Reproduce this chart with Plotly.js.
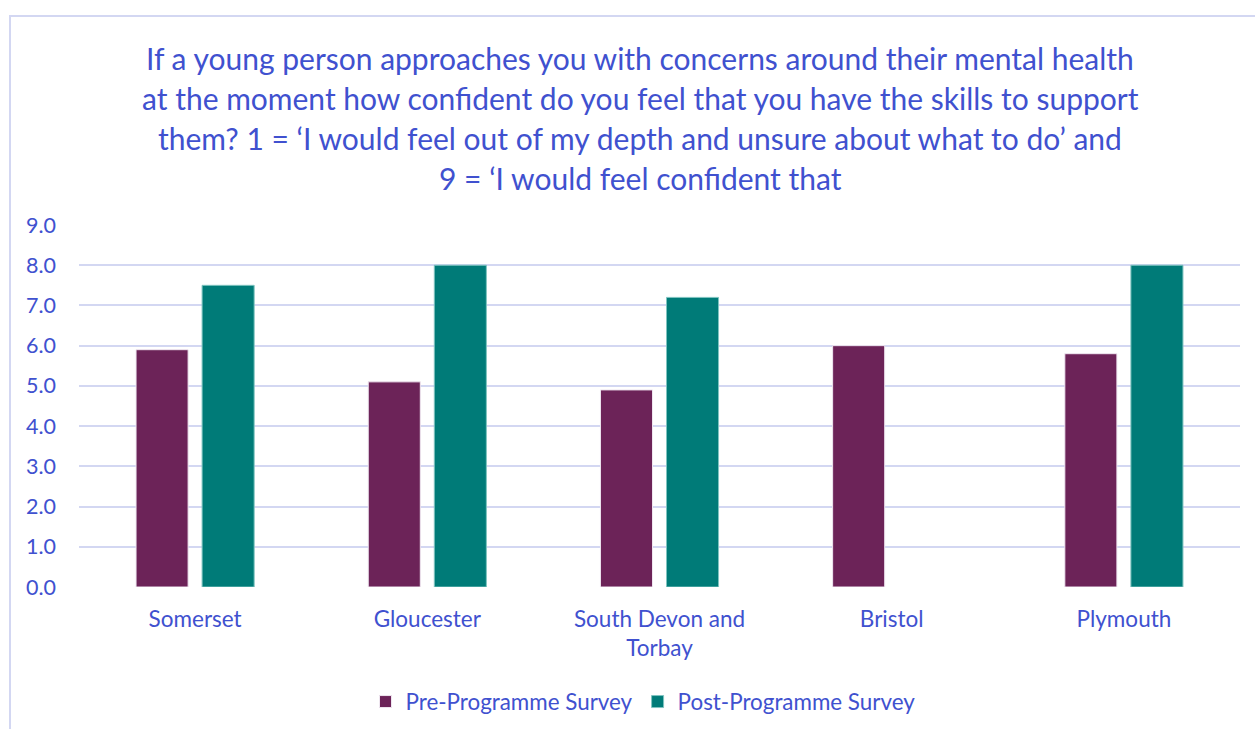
<!DOCTYPE html>
<html>
<head>
<meta charset="utf-8">
<script src="https://cdn.plot.ly/plotly-3.0.1.min.js"></script>
<style>
html,body{margin:0;padding:0;background:#fff;overflow:hidden;}
#frame{position:absolute;left:9px;top:15px;width:1300px;height:760px;border:2px solid #D3D7F2;box-sizing:border-box;pointer-events:none;}
#chart{position:absolute;left:0;top:0;width:1255px;height:729px;}
</style>
</head>
<body>
<div id="chart"></div>
<div id="frame"></div>
<script>
const categories = ["Somerset", "Gloucester", "South Devon and<br>Torbay", "Bristol", "Plymouth"];
const preValues = [5.9, 5.1, 4.9, 6.0, 5.8];
const postValues = [7.5, 8.0, 7.2, null, 8.0];
const seriesNames = ["Pre-Programme Survey", "Post-Programme Survey"];
const tickValues = [0, 1, 2, 3, 4, 5, 6, 7, 8, 9];
const titleLines = [
  "If a young person approaches you with concerns around their mental health",
  "at the moment how confident do you feel that you have the skills to support",
  "them? 1 = \u2018I would feel out of my depth and unsure about what to do\u2019 and",
  "9 = \u2018I would feel confident that"
];

const txt = "#4051CF";
const font = "Lato, 'Open Sans', sans-serif";
const W = 1255, H = 729;
const mL = 79, mR = 15, mT = 225, mB = 142;
const plotW = W - mL - mR, plotH = H - mT - mB;

const annotations = titleLines.map((t, i) => ({
  text: t,
  xref: "paper", yref: "paper",
  x: (640 - mL) / plotW,
  y: (mT - (58 + i * 40)) / plotH + 1,
  xanchor: "center", yanchor: "middle",
  showarrow: false,
  font: {family: font, size: 30, color: txt}
}));

const data = [
  {type: "bar", name: seriesNames[0], x: categories, y: preValues,
   marker: {color: "#6C2358", line: {color: "#EFE6F0", width: 1}}},
  {type: "bar", name: seriesNames[1], x: categories, y: postValues,
   marker: {color: "#007B78", line: {color: "#7FC4C0", width: 1}}}
];

const layout = {
  width: W, height: H,
  margin: {l: mL, r: mR, t: mT, b: mB, pad: 0, autoexpand: false},
  paper_bgcolor: "rgba(0,0,0,0)", plot_bgcolor: "rgba(0,0,0,0)",
  barmode: "group", bargap: 0.431, bargroupgap: 0.212,
  font: {family: font, color: txt, size: 20},
  xaxis: {type: "category", showgrid: false, zeroline: false, showline: false,
    ticks: "", ticklabelstandoff: 16, tickfont: {family: font, size: 22.5, color: txt}, automargin: false},
  yaxis: {range: [0, 9], tickvals: tickValues, tickformat: ".1f",
    showgrid: true, gridcolor: "#D3D7F2", gridwidth: 2, zeroline: false,
    showline: false, ticks: "", ticklen: 0, ticklabelstandoff: 22,
    tickfont: {family: font, size: 21.5, color: txt}, automargin: false},
  showlegend: true,
  legend: {orientation: "h", x: (643 - mL) / plotW, xanchor: "center",
    yref: "container", y: 1 - 702 / H, yanchor: "middle",
    font: {family: font, size: 22.4, color: txt}, itemwidth: 30, traceorder: "normal"},
  annotations: annotations
};

Plotly.newPlot("chart", data, layout, {displayModeBar: false, staticPlot: true});
</script>
</body>
</html>
